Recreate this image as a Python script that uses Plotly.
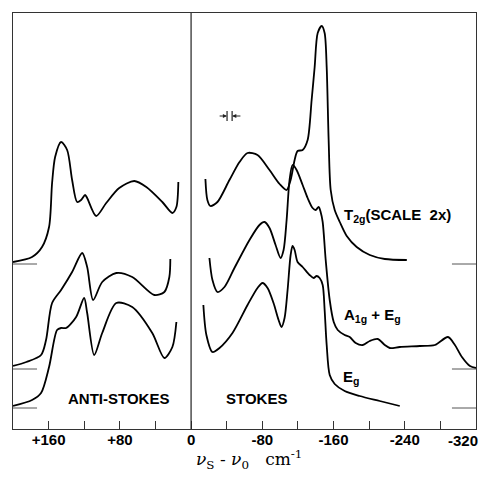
import plotly.graph_objects as go

# ---- data (Raman shift in cm^-1, intensity in arbitrary offset units) ----
t2g_as_x = [200, 178.6, 167.4, 159.5, 156.1, 152.7, 146, 139.2, 133.6, 128, 123.5, 119, 116.7, 106.6, 95.3, 80.7, 63.8, 50.3, 32.3, 21, 16.5, 14.3]
t2g_as_y = [167, 172, 182, 202, 246, 272, 287, 279, 249, 227, 229, 234, 231, 213, 226, 241, 248, 242, 227, 216, 222, 247]

a1g_as_x = [200, 185, 168.5, 162.9, 156.1, 146, 133.6, 122.3, 116.7, 110, 99.8, 84, 66.1, 41.3, 30, 24.4, 23.3]
a1g_as_y = [63, 67, 74, 89, 126, 139, 157, 176, 162, 129, 147, 156, 152, 134, 137, 152, 170]

eg_as_x = [200, 178.6, 168.5, 159.5, 150.5, 146, 140.3, 129.1, 120.1, 116.7, 108.8, 99.8, 84, 66.1, 43.6, 30, 21, 16.5]
eg_as_y = [23, 29, 36, 62, 99, 101, 101, 112, 131, 116, 74, 96, 126, 122, 96, 71, 82, 107]

t2g_s_x = [-16.1, -18.3, -21.7, -29.6, -43.1, -54.4, -63.4, -74.6, -88.1, -99.4, -107.3, -111.8, -116.3, -119.6, -125.3, -130.9, -135.4, -138.8, -142.2, -146.7, -150, -152.3, -154.5, -156.8, -161.3, -167, -174.8, -186, -200.7, -217.6, -242.3]
t2g_s_y = [250, 229, 223, 227, 249, 267, 276, 274, 259, 245, 239, 249, 269, 278, 279, 289, 329, 362, 396, 403, 396, 362, 289, 239, 219, 207, 193, 182, 174, 170, 169]

a1g_s_x = [-20.6, -24, -29.6, -37.5, -48.7, -65.6, -76.8, -82.5, -88.1, -94.9, -100.5, -103.9, -107.3, -110.6, -114, -118.5, -125.3, -130.9, -136.5, -139.9, -143.3, -145.5, -147.8, -151.2, -155.7, -160.2, -164.7, -172.5, -178.2, -184.9, -192.8, -200.7, -209.7, -217.6, -223.2, -234.4, -257, -273.8, -288.5, -296.3, -304.2, -313.2, -320]
a1g_s_y = [171, 149, 137, 142, 161, 189, 204, 207, 201, 184, 171, 179, 209, 249, 264, 259, 244, 231, 221, 219, 222, 217, 207, 169, 129, 107, 99, 94, 92, 86, 84, 88, 90, 84, 81, 82, 83, 84, 92, 84, 72, 63, 61]

eg_s_x = [-13.8, -17.2, -24, -31.9, -46.5, -63.4, -74.6, -80.2, -85.9, -92.6, -98.3, -101.6, -105, -108.4, -111.8, -114, -116.3, -119.6, -125.3, -133.1, -137.6, -141, -144.4, -147.8, -150, -152.3, -155.7, -161.3, -172.5, -189.4, -211.9, -234.4]
eg_s_y = [124, 94, 77, 81, 96, 124, 141, 146, 141, 126, 109, 102, 111, 139, 174, 183, 179, 167, 162, 154, 151, 153, 151, 144, 119, 84, 54, 45, 38, 33, 28, 23]

baselines = [165, 60, 21]
tick_vals = [160, 80, 0, -80, -160, -240, -320]
tick_text = ["+160", "+80", "0", "-80", "-160", "-240", "-320"]
minor_vals = [120, 40, -40, -120, -200, -280]

# resolution marker (slit width), in data units
res_bars = [-40.4, -46.1]
res_y = 313

X_RANGE = [200, -320]
Y_RANGE = [0, 416]

fig = go.Figure()
line = dict(color="black", width=1.8, shape="spline", smoothing=0.8)
for xs, ys in [(t2g_as_x, t2g_as_y), (a1g_as_x, a1g_as_y), (eg_as_x, eg_as_y),
               (t2g_s_x, t2g_s_y), (a1g_s_x, a1g_s_y), (eg_s_x, eg_s_y)]:
    fig.add_trace(go.Scatter(x=xs, y=ys, mode="lines", line=line,
                             showlegend=False, hoverinfo="skip"))

# zero line
fig.add_shape(type="line", x0=0, x1=0, y0=0, y1=1, xref="x", yref="paper",
              line=dict(color="#222", width=1.2))
# baseline marks
for b in baselines:
    fig.add_shape(type="line", x0=X_RANGE[0], x1=X_RANGE[0] - 27, y0=b, y1=b,
                  xref="x", yref="y", line=dict(color="#555", width=1))
    fig.add_shape(type="line", x0=X_RANGE[1] + 27, x1=X_RANGE[1], y0=b, y1=b,
                  xref="x", yref="y", line=dict(color="#555", width=1))

# resolution marker: two bars with inward arrows
for bx in res_bars:
    fig.add_shape(type="line", x0=bx, x1=bx, y0=res_y - 5, y1=res_y + 5,
                  xref="x", yref="y", line=dict(color="#222", width=1.2))
for tip, tail in [(res_bars[0], res_bars[0] + 10), (res_bars[1], res_bars[1] - 11)]:
    fig.add_annotation(x=tip, y=res_y, ax=tail, ay=res_y, axref="x", ayref="y",
                       xref="x", yref="y", text="", showarrow=True,
                       arrowhead=2, arrowsize=0.7, arrowwidth=1.2, arrowcolor="#222")

FONT = "Liberation Sans Narrow, Liberation Sans, Arial"
lab_font = dict(family=FONT, size=15, color="black", weight="bold")
tick_font = dict(family=FONT, size=15, color="black", weight="bold")
fig.add_annotation(x=-170, y=214, text="T<sub>2g</sub>(SCALE  2x)", showarrow=False,
                   xanchor="left", yanchor="middle", font=lab_font)
fig.add_annotation(x=-169, y=114, text="A<sub>1g</sub> + E<sub>g</sub>", showarrow=False,
                   xanchor="left", yanchor="middle", font=lab_font)
fig.add_annotation(x=-168, y=52, text="E<sub>g</sub>", showarrow=False,
                   xanchor="left", yanchor="middle", font=lab_font)
fig.add_annotation(x=82, y=31, text="ANTI-STOKES", showarrow=False,
                   xanchor="center", yanchor="middle", font=lab_font)
fig.add_annotation(x=-74, y=31, text="STOKES", showarrow=False,
                   xanchor="center", yanchor="middle", font=lab_font)
fig.add_annotation(x=-65, y=-0.074, xref="x", yref="paper",
                   text="<i>ν</i><sub>S</sub> - <i>ν</i><sub>0</sub>   cm<sup>-1</sup>",
                   showarrow=False, xanchor="center", yanchor="middle",
                   font=dict(family="DejaVu Serif", size=17, color="black"))
# last tick label sits against the right frame, drawn right-aligned so it stays inside the page
fig.add_annotation(x=tick_vals[-1], y=0, xref="x", yref="paper", yshift=-1,
                   text=tick_text[-1], showarrow=False, xanchor="right", yanchor="top",
                   xshift=4, font=tick_font)
axis_text = tick_text[:-1] + [""]

fig.update_layout(
    width=489, height=478,
    margin=dict(l=13, r=13, t=13, b=49),
    paper_bgcolor="white", plot_bgcolor="white",
    xaxis=dict(range=X_RANGE, tickvals=tick_vals, ticktext=axis_text,
               ticks="inside", ticklen=8, tickcolor="#333", tickwidth=1.2,
               showline=True, linecolor="#333", linewidth=1.2, mirror=True,
               showgrid=False, zeroline=False, ticklabelstandoff=-3,
               minor=dict(tickvals=minor_vals, ticks="inside", ticklen=8,
                          tickcolor="#333", tickwidth=1.2, showgrid=False),
               tickfont=tick_font),
    yaxis=dict(range=Y_RANGE, showticklabels=False, ticks="",
               showline=True, linecolor="#333", linewidth=1.2, mirror=True,
               showgrid=False, zeroline=False),
)

# remove the browser's default 8px body margin so the figure fills the window exactly
fig.write_html("out.html", config={"displayModeBar": False},
               post_script="document.body.style.margin='0';")
